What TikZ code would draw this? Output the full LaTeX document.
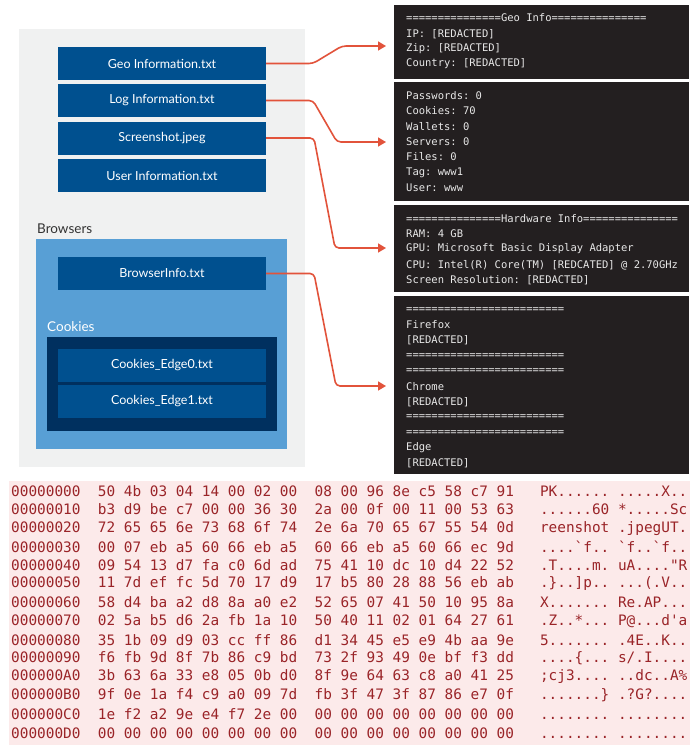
\documentclass[tikz,border=0pt]{standalone}
\usepackage{fontspec}
\setmainfont{Lato}
\setmonofont{DejaVu Sans Mono}
\usetikzlibrary{arrows.meta}
\definecolor{panelgray}{HTML}{F0F1F1}
\definecolor{lightblue}{HTML}{589FD5}
\definecolor{navy}{HTML}{00305F}
\definecolor{fileblue}{HTML}{00508F}
\definecolor{connred}{HTML}{E2533B}
\definecolor{termbg}{HTML}{231F20}
\definecolor{termfg}{HTML}{E8E8E8}
\definecolor{hexbg}{HTML}{FCEAEA}
\definecolor{hexfg}{HTML}{9A2428}
\definecolor{labelgray}{HTML}{333333}
\begin{document}
\begin{tikzpicture}[x=1pt,y=-1pt,
 filebox/.style={fill=fileblue, draw=none, text=white, minimum width=208pt, minimum height=33pt, inner sep=0pt, font=\fontsize{12.5}{14}\selectfont},
 termbox/.style={fill=termbg, draw=none, inner sep=0pt, minimum width=295pt},
 termtxt/.style={anchor=west, inner sep=0pt, text=termfg, font=\ttfamily\fontsize{10.5}{12}\selectfont},
 hextxt/.style={anchor=west, inner sep=0pt, text=hexfg, font=\ttfamily\fontsize{14.4}{16}\selectfont},
 grouplabel/.style={anchor=west, inner sep=0pt, font=\fontsize{13.5}{15}\selectfont},
 conn/.style={draw=connred, line width=1.6pt, rounded corners=4pt, -{Triangle[length=8pt,width=9pt]}},
]
\useasboundingbox (0,0) rectangle (700,745);
\fill[white] (0,0) rectangle (700,745);
% panels
\fill[panelgray] (19,29) rectangle (305,467);
\fill[lightblue] (36,239) rectangle (287,449);
\fill[navy] (47,337) rectangle (277,431);
% file boxes
\node[filebox] (geo) at (162,63.5) {Geo Information.txt};
\node[filebox] (log) at (162,100.5) {Log Information.txt};
\node[filebox] (shot) at (162,138) {Screenshot.jpeg};
\node[filebox] (user) at (162,175.5) {User Information.txt};
\node[grouplabel, text=labelgray] (browsers) at (37,229) {Browsers};
\node[filebox] (binfo) at (162,273.5) {BrowserInfo.txt};
\node[grouplabel, text=white] (cookies) at (47,327) {Cookies};
\node[filebox] (edge0) at (162,365.5) {Cookies\_Edge0.txt};
\node[filebox] (edge1) at (162,401.5) {Cookies\_Edge1.txt};
% terminal boxes
\node[termbox, minimum height=74pt] (term1) at (541.5,42) {};
\node[termbox, minimum height=119pt] (term2) at (541.5,141.5) {};
\node[termbox, minimum height=87pt] (term3) at (541.5,248.5) {};
\node[termbox, minimum height=178pt] (term4) at (541.5,385) {};
% terminal text
\node[termtxt] (g1) at (406,18) {===============Geo Info===============};
\node[termtxt] (g2) at (406,34) {IP: [REDACTED]};
\node[termtxt] (g3) at (406,49) {Zip: [REDACTED]};
\node[termtxt] (g4) at (406,64) {Country: [REDACTED]};
\node[termtxt] (l1) at (406,96) {Passwords: 0};
\node[termtxt] (l2) at (406,111) {Cookies: 70};
\node[termtxt] (l3) at (406,127) {Wallets: 0};
\node[termtxt] (l4) at (406,142) {Servers: 0};
\node[termtxt] (l5) at (406,157) {Files: 0};
\node[termtxt] (l6) at (406,173) {Tag: www1};
\node[termtxt] (l7) at (406,188) {User: www};
\node[termtxt] (w1) at (406,219) {===============Hardware Info===============};
\node[termtxt] (w2) at (406,234) {RAM: 4 GB};
\node[termtxt] (w3) at (406,249) {GPU: Microsoft Basic Display Adapter};
\node[termtxt] (w4) at (406,265) {CPU: Intel(R) Core(TM) [REDCATED] @ 2.70GHz};
\node[termtxt] (w5) at (406,280) {Screen Resolution: [REDACTED]};
\node[termtxt] (b1) at (406,310) {=========================};
\node[termtxt] (b2) at (406,325) {Firefox};
\node[termtxt] (b3) at (406,340) {[REDACTED]};
\node[termtxt] (b4) at (406,356) {=========================};
\node[termtxt] (b5) at (406,371) {=========================};
\node[termtxt] (b6) at (406,387) {Chrome};
\node[termtxt] (b7) at (406,402) {[REDACTED]};
\node[termtxt] (b8) at (406,417) {=========================};
\node[termtxt] (b9) at (406,433) {=========================};
\node[termtxt] (b10) at (406,448) {Edge};
\node[termtxt] (b11) at (406,463) {[REDACTED]};
% connectors
\coordinate (t1) at (386,46);
\coordinate (t2) at (386,142);
\coordinate (t3) at (386,248);
\coordinate (t4) at (386,386);
\draw[conn] (geo.east) -- (313,63.5) -- (342,46) -- (t1);
\draw[conn] (log.east) -- (313,100.5) -- (337,142) -- (t2);
\draw[conn] (shot.east) -- (314,138) -- (335,248) -- (t3);
\draw[conn] (binfo.east) -- (314,273.5) -- (336,386) -- (t4);
% hex dump
\fill[hexbg] (9,481) rectangle (690,745);
\node[hextxt] (h0) at (11,491.0) {00000000~ 50 4b 03 04 14 00 02 00~ 08 00 96 8e c5 58 c7 91~~ PK...... .....X..};
\node[hextxt] (h1) at (11,509.6) {00000010~ b3 d9 be c7 00 00 36 30~ 2a 00 0f 00 11 00 53 63~~ ......60 *.....Sc};
\node[hextxt] (h2) at (11,528.2) {00000020~ 72 65 65 6e 73 68 6f 74~ 2e 6a 70 65 67 55 54 0d~~ reenshot .jpegUT.};
\node[hextxt] (h3) at (11,546.8) {00000030~ 00 07 eb a5 60 66 eb a5~ 60 66 eb a5 60 66 ec 9d~~ ....`f.. `f..`f..};
\node[hextxt] (h4) at (11,565.4) {00000040~ 09 54 13 d7 fa c0 6d ad~ 75 41 10 dc 10 d4 22 52~~ .T....m. uA...."R};
\node[hextxt] (h5) at (11,584.0) {00000050~ 11 7d ef fc 5d 70 17 d9~ 17 b5 80 28 88 56 eb ab~~ .\}..]p.. ...(.V..};
\node[hextxt] (h6) at (11,602.6) {00000060~ 58 d4 ba a2 d8 8a a0 e2~ 52 65 07 41 50 10 95 8a~~ X....... Re.AP...};
\node[hextxt] (h7) at (11,621.2) {00000070~ 02 5a b5 d6 2a fb 1a 10~ 50 40 11 02 01 64 27 61~~ .Z..*... P@...d'a};
\node[hextxt] (h8) at (11,639.8) {00000080~ 35 1b 09 d9 03 cc ff 86~ d1 34 45 e5 e9 4b aa 9e~~ 5....... .4E..K..};
\node[hextxt] (h9) at (11,658.4) {00000090~ f6 fb 9d 8f 7b 86 c9 bd~ 73 2f 93 49 0e bf f3 dd~~ ....\{... s/.I....};
\node[hextxt] (h10) at (11,677.0) {000000A0~ 3b 63 6a 33 e8 05 0b d0~ 8f 9e 64 63 c8 a0 41 25~~ ;cj3.... ..dc..A\%};
\node[hextxt] (h11) at (11,695.6) {000000B0~ 9f 0e 1a f4 c9 a0 09 7d~ fb 3f 47 3f 87 86 e7 0f~~ .......\} .?G?....};
\node[hextxt] (h12) at (11,714.2) {000000C0~ 1e f2 a2 9e e4 f7 2e 00~ 00 00 00 00 00 00 00 00~~ ........ ........};
\node[hextxt] (h13) at (11,732.8) {000000D0~ 00 00 00 00 00 00 00 00~ 00 00 00 00 00 00 00 00~~ ........ ........};
\end{tikzpicture}
\end{document}
